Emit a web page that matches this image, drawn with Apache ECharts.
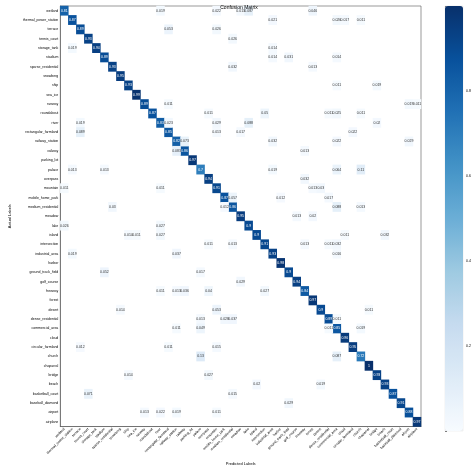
<!DOCTYPE html>
<html><head><meta charset="utf-8">
<script src="https://cdn.jsdelivr.net/npm/echarts@6/dist/echarts.min.js"></script>
<style>html,body{margin:0;padding:0;background:#fff}#c{width:474px;height:471px}</style>
</head><body><div id="c"></div>
<script>
const categories = ["wetland","thermal_power_station","terrace","tennis_court","storage_tank","stadium","sparse_residential","snowberg","ship","sea_ice","runway","roundabout","river","rectangular_farmland","railway_station","railway","parking_lot","palace","overpass","mountain","mobile_home_park","medium_residential","meadow","lake","island","intersection","industrial_area","harbor","ground_track_field","golf_course","freeway","forest","desert","dense_residential","commercial_area","cloud","circular_farmland","church","chaparral","bridge","beach","basketball_court","baseball_diamond","airport","airplane"];
const diagonal = [0.81,0.87,0.89,0.93,0.94,0.89,0.93,0.95,0.93,0.99,0.89,0.87,0.83,0.85,0.82,0.86,0.97,0.7,0.94,0.91,0.87,0.86,0.95,0.9,0.9,0.91,0.93,0.98,0.9,0.94,0.84,0.97,0.9,0.89,0.85,0.96,0.95,0.72,1,0.93,0.93,0.87,0.91,0.88,0.97];
// [actual row, predicted col, value]
const offDiagonal = [
[0,12,0.019],[0,19,0.022],[0,22,0.013],[0,23,0.087],[0,31,0.046],
[1,26,0.021],[1,34,0.026],[1,35,0.017],[1,37,0.011],
[2,13,0.053],[2,19,0.026],[3,21,0.026],[4,1,0.019],[4,26,0.014],
[5,26,0.014],[5,28,0.031],[5,34,0.014],[6,21,0.032],[6,31,0.013],
[8,34,0.011],[8,39,0.019],[10,13,0.011],[10,43,0.019],[10,44,0.011],
[11,18,0.011],[11,25,0.05],[11,33,0.011],[11,34,0.025],[11,37,0.011],
[12,2,0.019],[12,13,0.023],[12,19,0.029],[12,23,0.088],[12,39,0.02],
[13,2,0.089],[13,19,0.013],[13,22,0.017],[13,36,0.022],
[14,15,0.073],[14,26,0.032],[14,34,0.022],[14,43,0.029],
[15,14,0.083],[15,30,0.013],
[17,1,0.013],[17,5,0.013],[17,26,0.019],[17,34,0.064],[17,37,0.11],
[18,30,0.032],[19,0,0.011],[19,12,0.011],[19,31,0.013],[19,32,0.03],
[20,21,0.057],[20,27,0.012],[20,33,0.017],
[21,6,0.03],[21,20,0.012],[21,34,0.088],[21,37,0.013],
[22,29,0.013],[22,31,0.02],[23,0,0.026],[23,12,0.027],
[24,8,0.014],[24,9,0.011],[24,12,0.027],[24,35,0.011],[24,40,0.032],
[25,18,0.011],[25,21,0.013],[25,30,0.013],[25,33,0.011],[25,34,0.032],
[26,1,0.019],[26,14,0.037],[26,34,0.016],
[28,5,0.052],[28,17,0.017],[29,22,0.029],
[30,12,0.011],[30,14,0.013],[30,15,0.036],[30,18,0.04],[30,25,0.027],
[32,7,0.014],[32,19,0.053],[32,38,0.011],
[33,17,0.013],[33,20,0.028],[33,21,0.037],[33,34,0.011],
[34,14,0.011],[34,17,0.049],[34,33,0.011],[34,37,0.019],
[36,2,0.012],[36,13,0.011],[36,19,0.015],
[37,17,0.13],[37,34,0.087],[39,8,0.014],[39,18,0.027],
[40,24,0.02],[40,32,0.019],[41,3,0.071],[41,21,0.015],[42,28,0.029],
[43,10,0.013],[43,12,0.022],[43,14,0.019],[43,19,0.011]];
const colorbarTicks = [0.2,0.4,0.6,0.8];

const cells = diagonal.map((v,i)=>[i,i,v]).concat(offDiagonal.map(d=>[d[1],d[0],d[2]]));
const fmt = v => String(Number(v.toPrecision(2)));
const chart = echarts.init(document.getElementById('c'));
const blues = ['#f7fbff','#deebf7','#c6dbef','#9ecae1','#6baed6','#4292c6','#2171b5','#08519c','#08306b'];
chart.setOption({
  animation:false,
  title:{text:'Confusion Matrix',left:234,top:0,textAlign:'center',textStyle:{fontSize:5,fontWeight:'normal',color:'#000'}},
  grid:[{left:48,right:53,top:6,bottom:40,show:true,borderColor:'#555',borderWidth:0.6,backgroundColor:'transparent'},
        {left:445,width:18,top:6,bottom:40,show:true,borderColor:'#ccc',borderWidth:0.3}],
  xAxis:[{type:'category',data:categories,gridIndex:0,name:'Predicted Labels',nameLocation:'middle',nameGap:34,
    nameTextStyle:{fontSize:4,color:'#000'},axisLabel:{fontSize:3.5,rotate:45,interval:0,color:'#000',margin:2},
    axisTick:{alignWithLabel:true,length:2},axisLine:{lineStyle:{color:'#555',width:0.6}},splitLine:{show:false}},
    {type:'value',gridIndex:1,show:false,min:0,max:1}],
  yAxis:[{type:'category',data:categories,inverse:true,gridIndex:0,name:'Actual Labels',nameLocation:'middle',nameGap:42,
    nameTextStyle:{fontSize:4,color:'#000'},axisLabel:{fontSize:3.5,interval:0,color:'#000',margin:2},
    axisTick:{alignWithLabel:true,length:2},axisLine:{lineStyle:{color:'#555',width:0.6}}},
    {type:'value',gridIndex:1,min:0,max:1,interval:0.2,position:'right',
     axisLabel:{fontSize:3.5,color:'#000',margin:3,formatter:v=>colorbarTicks.some(t=>Math.abs(t-v)<1e-9)?v.toFixed(1):''},
     axisTick:{length:2,lineStyle:{color:'#000',width:0.5}},axisLine:{show:false},splitLine:{show:false}}],
  visualMap:{type:'continuous',min:0,max:1,seriesIndex:0,calculable:false,show:true,left:445,top:6,padding:0,
    itemWidth:18,itemHeight:425,text:null,showLabel:false,inRange:{color:blues},textStyle:{fontSize:1,color:'rgba(0,0,0,0)'}},
  series:[{type:'heatmap',xAxisIndex:0,yAxisIndex:0,
    data:cells.map(c=>({value:c,label:{color:c[2]>0.5?'#fff':'#333'}})),
    label:{show:true,fontSize:3.5,formatter:p=>fmt(p.value[2])},
    labelLayout:{hideOverlap:false},
    itemStyle:{borderWidth:0},
    emphasis:{disabled:true}
  }]
});
</script></body></html>
